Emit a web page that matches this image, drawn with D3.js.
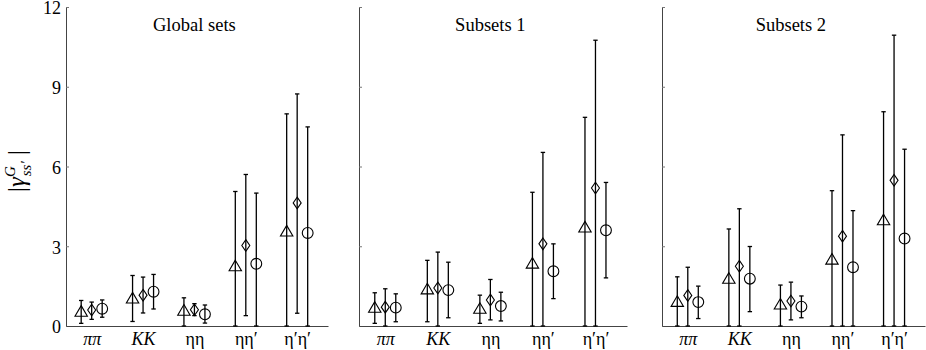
<!DOCTYPE html>
<html>
<head>
<meta charset="utf-8">
<script src="https://cdn.jsdelivr.net/npm/d3@7"></script>
<style>
  body { margin: 0; background: #fff; }
  svg text { font-family: "Liberation Serif", "Times New Roman", Times, "DejaVu Serif", serif; }
</style>
</head>
<body>
<div id="chart"></div>
<script>
// categories and series (triangle, diamond, circle)
let categories = ['ππ', 'KK', 'ηη', 'ηη′', 'η′η′'];
let series = ['tri', 'dia', 'circ'];
let panelTitles = ['Global sets', 'Subsets 1', 'Subsets 2'];
let yTicks = [0, 3, 6, 9, 12];

// values per category: [triangle, diamond, circle]
let globalVal = [[0.54, 0.60, 0.65], [1.04, 1.16, 1.29], [0.58, 0.61, 0.44], [2.25, 3.03, 2.34], [3.56, 4.63, 3.50]];
let globalLo  = [[0.10, 0.25, 0.33], [0.17, 0.49, 0.64], [0.00, 0.39, 0.11], [0.00, 0.39, 0.00], [0.00, 0.48, 0.00]];
let globalHi  = [[0.96, 0.90, 0.98], [1.90, 1.84, 1.94], [1.06, 0.84, 0.79], [5.06, 5.70, 5.00], [7.98, 8.73, 7.49]];

let sub1Val = [[0.69, 0.71, 0.69], [1.38, 1.43, 1.35], [0.65, 0.98, 0.75], [2.35, 3.09, 2.06], [3.71, 5.19, 3.60]];
let sub1Lo  = [[0.10, 0.00, 0.16], [0.16, 0.00, 0.31], [0.10, 0.23, 0.19], [0.00, 0.00, 1.03], [0.00, 0.00, 1.81]];
let sub1Hi  = [[1.25, 1.40, 1.21], [2.47, 2.78, 2.40], [1.16, 1.75, 1.27], [5.03, 6.53, 3.09], [7.85, 10.75, 5.40]];

let sub2Val = [[0.91, 1.15, 0.90], [1.78, 2.25, 1.78], [0.81, 0.94, 0.73], [2.50, 3.38, 2.21], [3.98, 5.48, 3.29]];
let sub2Lo  = [[0.00, 0.00, 0.28], [0.00, 0.00, 0.54], [0.00, 0.23, 0.31], [0.00, 0.00, 0.00], [0.00, 0.00, 0.00]];
let sub2Hi  = [[1.85, 2.21, 1.50], [3.65, 4.41, 2.99], [1.54, 1.65, 1.13], [5.09, 7.19, 4.34], [8.06, 10.94, 6.65]];

let panelData = [
  {val: globalVal, lo: globalLo, hi: globalHi},
  {val: sub1Val, lo: sub1Lo, hi: sub1Hi},
  {val: sub2Val, lo: sub2Lo, hi: sub2Hi}
];

// layout
let W = 926, H = 350;
let plotTop = 7, plotBottom = 326;
let panelLeft = [66, 359, 662];
let panelWidth = [262, 268, 263];

let svg = d3.select('#chart').append('svg')
  .attr('width', W)
  .attr('height', H);

let yScale = d3.scaleLinear().domain([0, 12]).range([plotBottom, plotTop]);
let offset = d3.scalePoint().domain(series).range([-10.5, 10.5]);

// marker shapes
let shapes = {
  tri: 'M0,-6L6.2,4.6L-6.2,4.6Z',
  dia: 'M0,-5.8L4,0L0,5.8L-4,0Z',
  circ: d3.arc()({innerRadius: 0, outerRadius: 5.4, startAngle: 0, endAngle: 2 * Math.PI})
};

panelData.forEach(function(pd, p) {
  let g = svg.append('g')
    .attr('transform', 'translate(' + panelLeft[p] + ',0)');

  let xScale = d3.scaleLinear().domain([0, 5.1]).range([0, panelWidth[p]]);

  // y axis, ticks pointing inward
  let yAxis = d3.axisLeft(yScale)
    .tickValues(yTicks)
    .tickSize(-3)
    .tickSizeOuter(0)
    .tickPadding(5)
    .tickFormat(p == 0 ? d3.format('d') : function() { return ''; });

  let ya = g.append('g').attr('class', 'yaxis').call(yAxis);
  ya.select('.domain').attr('stroke', '#444').attr('stroke-width', 1);
  ya.selectAll('.tick line').attr('stroke', '#777');
  ya.selectAll('.tick text')
    .attr('fill', '#000')
    .attr('dy', '0.38em')
    .style('font-size', '18px');

  // x axis, no ticks
  let xAxis = d3.axisBottom(xScale)
    .tickValues(d3.range(categories.length).map(function(i) { return i + 0.5; }))
    .tickSize(0)
    .tickSizeOuter(0)
    .tickPadding(6)
    .tickFormat(function(d, i) { return categories[i]; });

  let xa = g.append('g').attr('class', 'xaxis')
    .attr('transform', 'translate(0,' + plotBottom + ')')
    .call(xAxis);
  xa.select('.domain').attr('stroke', '#444').attr('stroke-width', 1);
  xa.selectAll('.tick text')
    .attr('fill', '#000')
    .style('font-size', '18px')
    .style('font-style', function(d, i) { return i < 2 ? 'italic' : 'normal'; });

  // title
  g.append('text')
    .attr('x', panelWidth[p] * 0.49)
    .attr('y', 31)
    .attr('text-anchor', 'middle')
    .style('font-size', '18.5px')
    .text(panelTitles[p]);

  // error bars and markers
  categories.forEach(function(c, i) {
    series.forEach(function(s, j) {
      let cx = xScale(i + 0.5) + offset(s);
      let v = pd.val[i][j], lo = pd.lo[i][j], hi = pd.hi[i][j];
      let bar = g.append('g').attr('class', 'errbar');
      bar.append('line')
        .attr('x1', cx).attr('x2', cx)
        .attr('y1', yScale(lo)).attr('y2', yScale(hi))
        .attr('stroke', '#000').attr('stroke-width', 1.3);
      [lo, hi].forEach(function(e) {
        bar.append('line')
          .attr('x1', cx - 2.2).attr('x2', cx + 2.2)
          .attr('y1', yScale(e)).attr('y2', yScale(e))
          .attr('stroke', '#000').attr('stroke-width', 1.3);
      });
      g.append('path')
        .attr('class', 'marker')
        .attr('d', shapes[s])
        .attr('transform', 'translate(' + cx + ',' + yScale(v) + ')')
        .attr('fill', 'none')
        .attr('stroke', '#000')
        .attr('stroke-width', 1.1);
    });
  });
});

// y label |gamma^G_ss'|
let ylab = svg.append('text')
  .attr('transform', 'translate(25,171) rotate(-90)')
  .attr('text-anchor', 'middle')
  .style('font-size', '25px');
ylab.append('tspan').text('|');
ylab.append('tspan').style('font-style', 'italic').text('γ');
ylab.append('tspan').attr('dy', -10).style('font-size', '15px').style('font-style', 'italic').text('G');
ylab.append('tspan').attr('dx', -10).attr('dy', 16).style('font-size', '15px').style('font-style', 'italic').text('ss′');
ylab.append('tspan').attr('dy', -6).text(' |');
</script>
</body>
</html>
